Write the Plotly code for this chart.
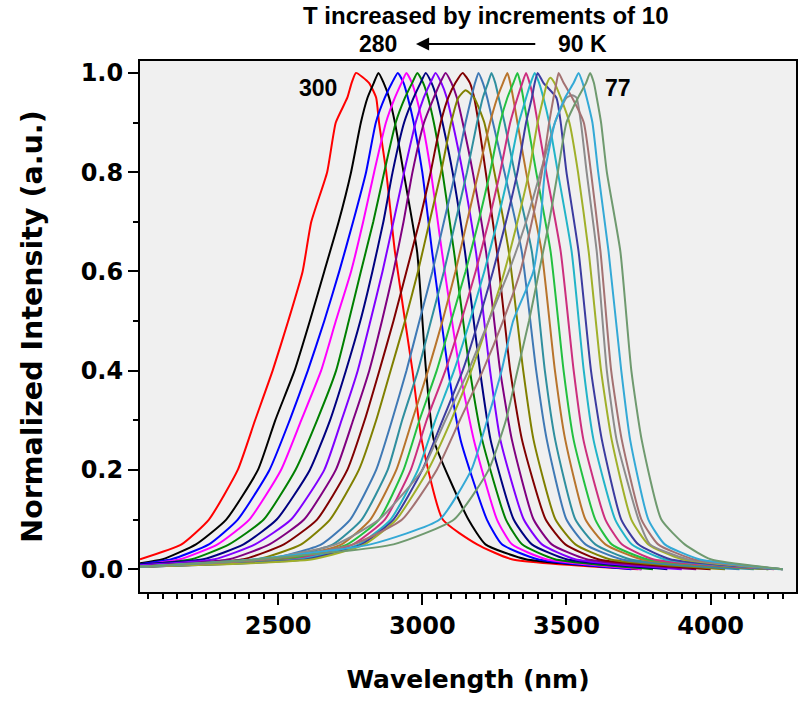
import plotly.graph_objects as go

# Temperatures (K) of each spectrum, high to low
temps = [300, 280, 270, 260, 250, 240, 230, 220, 210, 200, 190,
         180, 170, 160, 150, 140, 130, 120, 110, 100, 90, 77]

colors = ["#FF0000", "#000000", "#0000FF", "#FF00FF", "#008000", "#000080",
          "#8000FF", "#800080", "#800000", "#808000", "#3F79B5", "#2F8F9F",
          "#B8742C", "#22C040", "#CC2E7E", "#22B4C8", "#3C3CA0", "#A0B02A",
          "#8C8C8C", "#A47272", "#34A9D6", "#6F9A6F"]

rise_levels = [0.02, 0.05, 0.1, 0.2, 0.3, 0.4, 0.5, 0.6, 0.7, 0.8, 0.9, 0.95, 0.98]
fall_levels = [0.98, 0.95, 0.9, 0.8, 0.64, 0.4, 0.26, 0.1, 0.05, 0.02]

start_wl = [2021] * 22
start_int = [0.02, 0.012, 0.01, 0.008, 0.008, 0.01, 0.008, 0.006, 0.005, 0.005, 0.005,
             0.005, 0.005, 0.005, 0.005, 0.005, 0.005, 0.005, 0.005, 0.005, 0.005, 0.005]

# wavelength (nm) where each curve's rising edge crosses rise_levels
rise_wl = [
    [None, 2165, 2260, 2360, 2420, 2481, 2535, 2585, 2615, 2670, 2700, 2740, 2755],
    [2100, 2215, 2320, 2430, 2490, 2557, 2610, 2660, 2710, 2753, 2787, 2810, 2832],
    [2130, 2260, 2360, 2470, 2540, 2603, 2660, 2712, 2760, 2805, 2839, 2870, 2895],
    [2160, 2290, 2400, 2510, 2580, 2649, 2700, 2753, 2795, 2833, 2874, 2905, 2928],
    [2200, 2330, 2450, 2560, 2635, 2701, 2745, 2787, 2830, 2868, 2908, 2940, 2965],
    [2240, 2380, 2495, 2610, 2680, 2735, 2785, 2827, 2865, 2897, 2937, 2970, 2994],
    [2280, 2420, 2545, 2660, 2720, 2776, 2820, 2862, 2900, 2937, 2977, 3005, 3028],
    [2330, 2470, 2590, 2700, 2760, 2816, 2860, 2900, 2935, 2966, 3006, 3040, 3062],
    [2380, 2520, 2635, 2740, 2800, 2851, 2900, 2945, 2990, 3029, 3064, 3090, 3115],
    [2430, 2580, 2680, 2780, 2840, 2890, 2940, 2985, 3025, 3065, 3100, 3125, 3135],
    [2470, 2650, 2750, 2840, 2895, 2945, 2990, 3035, 3075, 3115, 3150, 3170, 3183],
    [2500, 2690, 2790, 2880, 2930, 2985, 3030, 3075, 3115, 3155, 3190, 3210, 3228],
    [2520, 2720, 2820, 2910, 2965, 3020, 3070, 3115, 3155, 3195, 3235, 3260, 3280],
    [2540, 2740, 2850, 2935, 2990, 3050, 3100, 3150, 3195, 3235, 3270, 3295, 3316],
    [2560, 2760, 2870, 2960, 3015, 3080, 3135, 3185, 3230, 3270, 3305, 3330, 3347],
    [2580, 2780, 2890, 2985, 3045, 3110, 3165, 3215, 3260, 3300, 3335, 3360, 3376],
    [2600, 2790, 2900, 3000, 3070, 3140, 3195, 3245, 3290, 3330, 3360, 3380, 3390],
    [2620, 2800, 2910, 3020, 3100, 3170, 3230, 3285, 3330, 3370, 3400, 3420, 3433],
    [2450, 2700, 2850, 3000, 3080, 3160, 3230, 3300, 3360, 3410, 3460, 3500, 3510],
    [2460, 2760, 2930, 3050, 3130, 3210, 3280, 3340, 3380, 3415, 3440, 3455, 3465],
    [2420, 2820, 3060, 3170, 3225, 3275, 3315, 3385, 3410, 3425, 3460, 3495, 3525],
    [2430, 2900, 3110, 3230, 3290, 3330, 3370, 3405, 3440, 3470, 3500, 3540, 3568],
]

peak_wl = [2770, 2848, 2915, 2945, 2983, 3012, 3046, 3081, 3140, 3150, 3195,
           3240, 3295, 3330, 3360, 3390, 3400, 3444, 3520, 3473, 3542, 3582]
peak_int = [1.0, 1.0, 1.0, 1.0, 1.0, 1.0, 1.0, 1.0, 1.0, 0.965, 1.0,
            1.0, 1.0, 1.0, 1.0, 1.0, 1.0, 0.99, 0.955, 1.0, 1.0, 1.0]

# wavelength (nm) where each curve's falling edge crosses fall_levels
fall_wl = [
    [2815, 2840, 2850, 2875, 2905, 2966, 2998, 3071, 3190, 3310],
    [2866, 2885, 2905, 2935, 2982, 3013, 3040, 3160, 3219, 3359],
    [2935, 2950, 2970, 3000, 3034, 3090, 3133, 3224, 3276, 3400],
    [2964, 2980, 3000, 3030, 3068, 3130, 3179, 3259, 3311, 3430],
    [3003, 3020, 3040, 3070, 3110, 3165, 3208, 3290, 3346, 3460],
    [3032, 3050, 3070, 3105, 3148, 3200, 3237, 3317, 3380, 3500],
    [3066, 3085, 3105, 3140, 3186, 3235, 3271, 3352, 3415, 3530],
    [3101, 3120, 3140, 3175, 3221, 3270, 3311, 3386, 3449, 3570],
    [3165, 3180, 3195, 3220, 3259, 3305, 3346, 3428, 3496, 3610],
    [3165, 3180, 3215, 3250, 3300, 3350, 3386, 3462, 3531, 3650],
    [3210, 3225, 3245, 3285, 3345, 3395, 3432, 3500, 3566, 3690],
    [3253, 3265, 3285, 3320, 3380, 3425, 3461, 3531, 3600, 3720],
    [3305, 3315, 3330, 3360, 3414, 3460, 3496, 3566, 3635, 3760],
    [3340, 3350, 3365, 3395, 3445, 3490, 3525, 3600, 3657, 3780],
    [3372, 3385, 3400, 3430, 3480, 3525, 3559, 3635, 3692, 3800],
    [3405, 3420, 3440, 3470, 3518, 3560, 3594, 3669, 3726, 3840],
    [3420, 3465, 3480, 3500, 3542, 3585, 3623, 3690, 3749, 3860],
    [3458, 3480, 3510, 3540, 3577, 3620, 3657, 3725, 3784, 3900],
    [3530, 3535, 3550, 3570, 3605, 3640, 3674, 3750, 3790, 3920],
    [3490, 3520, 3560, 3585, 3618, 3655, 3692, 3760, 3818, 3940],
    [3556, 3570, 3590, 3610, 3646, 3690, 3721, 3784, 3841, 3960],
    [3595, 3605, 3620, 3640, 3687, 3725, 3761, 3829, 3910, 4000],
]

end_wl = [3750, 3760, 3725, 3760, 3800, 3850, 3900, 3950, 4000, 4050, 4100,
          4150, 4200, 4200, 4220, 4240, 4250, 4250, 4250, 4250, 4250, 4250]
end_int = [0.0] * 22

xticks = [2500, 3000, 3500, 4000]
yticks = [0.0, 0.2, 0.4, 0.6, 0.8, 1.0]

AXFONT = "DejaVu Sans, Verdana, sans-serif"
TXFONT = "Liberation Sans, Arial, sans-serif"

fig = go.Figure()
for i, t in enumerate(temps):
    xs = [start_wl[i]]
    ys = [start_int[i]]
    for w, lv in zip(rise_wl[i], rise_levels):
        if w is not None and lv < peak_int[i]:
            xs.append(w)
            ys.append(lv)
    xs.append(peak_wl[i])
    ys.append(peak_int[i])
    for w, lv in zip(fall_wl[i], fall_levels):
        if lv < peak_int[i]:
            xs.append(w)
            ys.append(lv)
    xs.append(end_wl[i])
    ys.append(end_int[i])
    fig.add_trace(go.Scatter(x=xs, y=ys, mode="lines", name=f"{t} K",
                             line=dict(color=colors[i], width=2,
                                       shape="spline", smoothing=0.5)))

fig.update_layout(
    width=801, height=702,
    margin=dict(l=140, r=3, t=61, b=110),
    paper_bgcolor="white",
    plot_bgcolor="#F0F0F0",
    showlegend=False,
    font=dict(family=AXFONT, color="black"),
)

fig.update_xaxes(
    range=[2021, 4296],
    tickmode="array", tickvals=xticks, ticktext=[str(v) for v in xticks],
    ticks="outside", ticklen=11, tickwidth=2, tickcolor="black",
    minor=dict(dtick=50, tick0=2000, ticks="outside", ticklen=5, tickwidth=1.5, tickcolor="black"),
    showgrid=False, zeroline=False,
    showline=True, linecolor="black", linewidth=2, mirror=True,
    tickfont=dict(family=AXFONT, size=24, color="black", weight="bold"),
    title=dict(text="<b>Wavelength (nm)</b>", font=dict(family=AXFONT, size=25, color="black"), standoff=32),
)
fig.update_yaxes(
    range=[-0.046, 1.024],
    tickmode="array", tickvals=yticks, ticktext=[f"{v:.1f}" for v in yticks],
    ticks="outside", ticklen=10, tickwidth=2, tickcolor="black",
    minor=dict(dtick=0.1, tick0=0, ticks="outside", ticklen=5, tickwidth=1.5, tickcolor="black"),
    showgrid=False, zeroline=False,
    showline=True, linecolor="black", linewidth=2, mirror=True,
    tickfont=dict(family=AXFONT, size=24, color="black", weight="bold"),
    title=dict(text="<b>Normalized Intensity (a.u.)</b>", font=dict(family=AXFONT, size=28.5, color="black"), standoff=30),
)

annots = [
    dict(text="<b>T increased by increments of 10</b>", x=3218, y=1.0866, size=24),
    dict(text="<b>280</b>", x=2845, y=1.032, size=23),
    dict(text="<b>90 K</b>", x=3556, y=1.032, size=23),
    dict(text="<b>300</b>", x=2640, y=0.969, size=23, yref="y"),
    dict(text="<b>77</b>", x=3680, y=0.969, size=23, yref="y"),
]
for a in annots:
    fig.add_annotation(text=a["text"], x=a["x"], y=a["y"], xref="x",
                       yref=a.get("yref", "paper"), showarrow=False,
                       font=dict(family=TXFONT, size=a["size"], color="black"),
                       xanchor="center", yanchor="middle")

fig.add_annotation(x=2978, y=1.032, ax=3397, ay=0, xref="x", yref="paper",
                   axref="x", ayref="pixel", showarrow=True, arrowhead=2,
                   arrowsize=1.2, arrowwidth=2.2, arrowcolor="black", text="")

fig.write_html("out.html")
